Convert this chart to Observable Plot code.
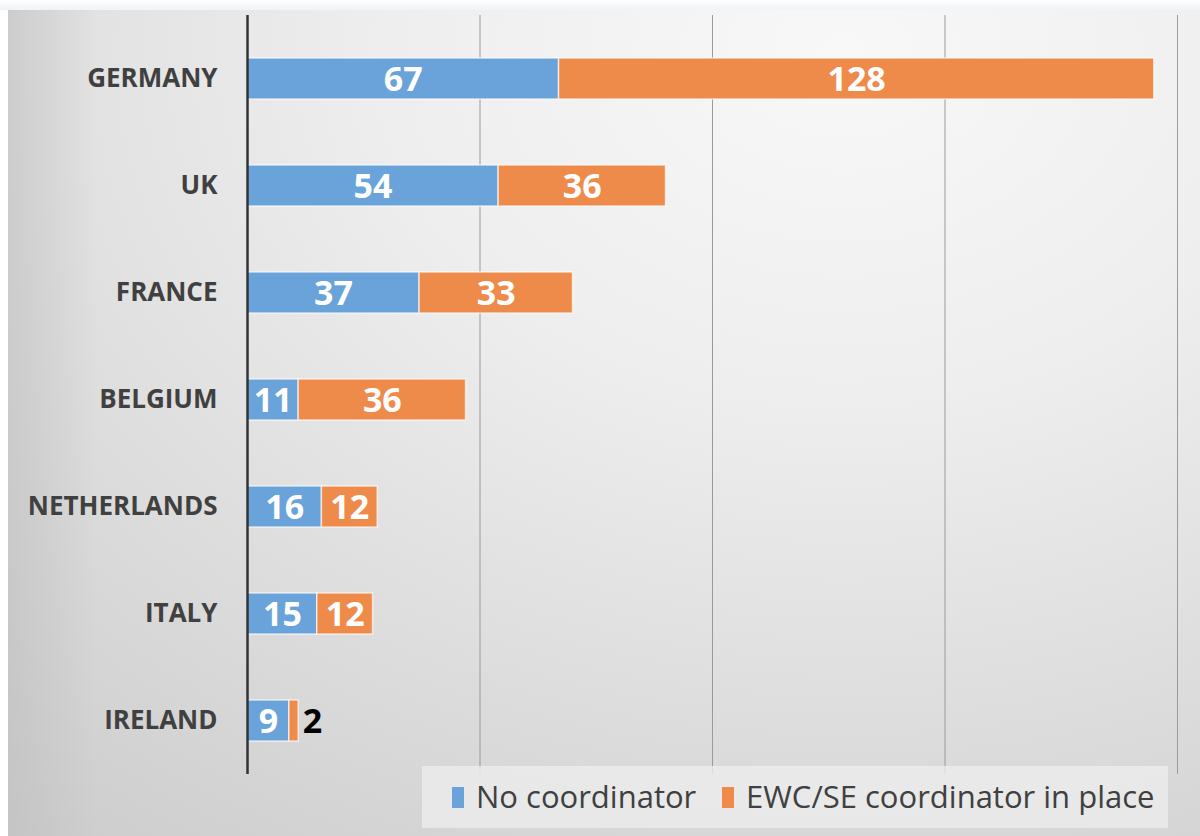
<!DOCTYPE html>
<html><head><meta charset="utf-8">
<script src="https://cdn.jsdelivr.net/npm/d3@7"></script>
<script src="https://cdn.jsdelivr.net/npm/@observablehq/plot@0.6"></script>
<style>
body{margin:0;background:#fff;}
#wrap{position:relative;width:1200px;height:836px;overflow:hidden;background:#fff;font-family:"Open Sans",sans-serif;}
#topline{position:absolute;left:0;top:0;width:1200px;height:10px;background:linear-gradient(#ffffff,#f1f3f6);}
#panel{position:absolute;left:8px;top:10px;width:1192px;height:826px;
 background:
  linear-gradient(90deg, rgba(190,190,190,0.55) 0px, rgba(190,190,190,0) 90px),
  radial-gradient(ellipse 110% 120% at 70% 5%, #f8f8f8 0%, #eeeeee 35%, #dcdcdc 70%, #cdcdcd 100%);}
#chart{position:absolute;left:0;top:0;}
#legend{position:absolute;left:422px;top:766px;width:746px;height:62px;background:rgba(236,236,236,0.8);}
.sw{position:absolute;top:21px;width:12px;height:21px;}
.lt{position:absolute;top:9px;font-size:31px;color:#404040;line-height:42px;white-space:nowrap;}
</style></head>
<body>
<div id="wrap">
 <div id="topline"></div>
 <div id="panel"></div>
 <div id="chart"></div>
 <div id="legend">
  <div class="sw" style="left:30px;background:#69a3d9;"></div>
  <div class="lt" style="left:54px;">No coordinator</div>
  <div class="sw" style="left:300px;background:#ee8b4b;"></div>
  <div class="lt" style="left:324px;">EWC/SE coordinator in place</div>
 </div>
</div>
<script>
const countries = ["GERMANY","UK","FRANCE","BELGIUM","NETHERLANDS","ITALY","IRELAND"];
const noCoordinator = [67,54,37,11,16,15,9];
const ewcCoordinator = [128,36,33,36,12,12,2];
const seriesNames = ["No coordinator","EWC/SE coordinator in place"];
const seriesColors = ["#69a3d9","#ee8b4b"];
const gridTicks = [50,100,150,200];

const data = [];
countries.forEach((c,i)=>{
  data.push({country:c, series:seriesNames[0], value:noCoordinator[i]});
  data.push({country:c, series:seriesNames[1], value:ewcCoordinator[i]});
});
const totals = countries.map((c,i)=>({country:c, total:noCoordinator[i]+ewcCoordinator[i], value:ewcCoordinator[i]}));
const small = d => d.value < 5;

const stackOpts = {x:"value", y:"country", z:"series", order:seriesNames};

const chart = Plot.plot({
  width:1200, height:836,
  marginLeft:247, marginRight:23, marginTop:24, marginBottom:62,
  style:{background:"transparent", fontFamily:"Open Sans, sans-serif"},
  x:{domain:[0,200], axis:null},
  y:{domain:countries, paddingInner:0.617, paddingOuter:0.3085, label:null},
  color:{domain:seriesNames, range:seriesColors},
  marks:[
    Plot.ruleX(gridTicks, {stroke:"#9a9a9a", strokeWidth:1, insetTop:-9}),
    Plot.barX(data, Plot.stackX({...stackOpts, fill:"series", stroke:"rgba(255,255,255,0.65)", strokeWidth:1.5})),
    Plot.text(data, Plot.stackX({...stackOpts, text:d=>small(d)?"":String(d.value), fill:"white", fontWeight:"bold", fontSize:34, dy:1})),
    Plot.text(totals.filter(small), {x:"total", y:"country", text:d=>String(d.value), textAnchor:"start", dx:4, fill:"black", fontWeight:"bold", fontSize:34, dy:1}),
    Plot.ruleX([0], {stroke:"#333333", strokeWidth:2.5, insetTop:-9}),
    Plot.axisY({tickSize:0, tickPadding:30, fontSize:26, fontWeight:"bold", fill:"#404040", label:null})
  ]
});
document.getElementById("chart").appendChild(chart);
</script>
</body></html>
